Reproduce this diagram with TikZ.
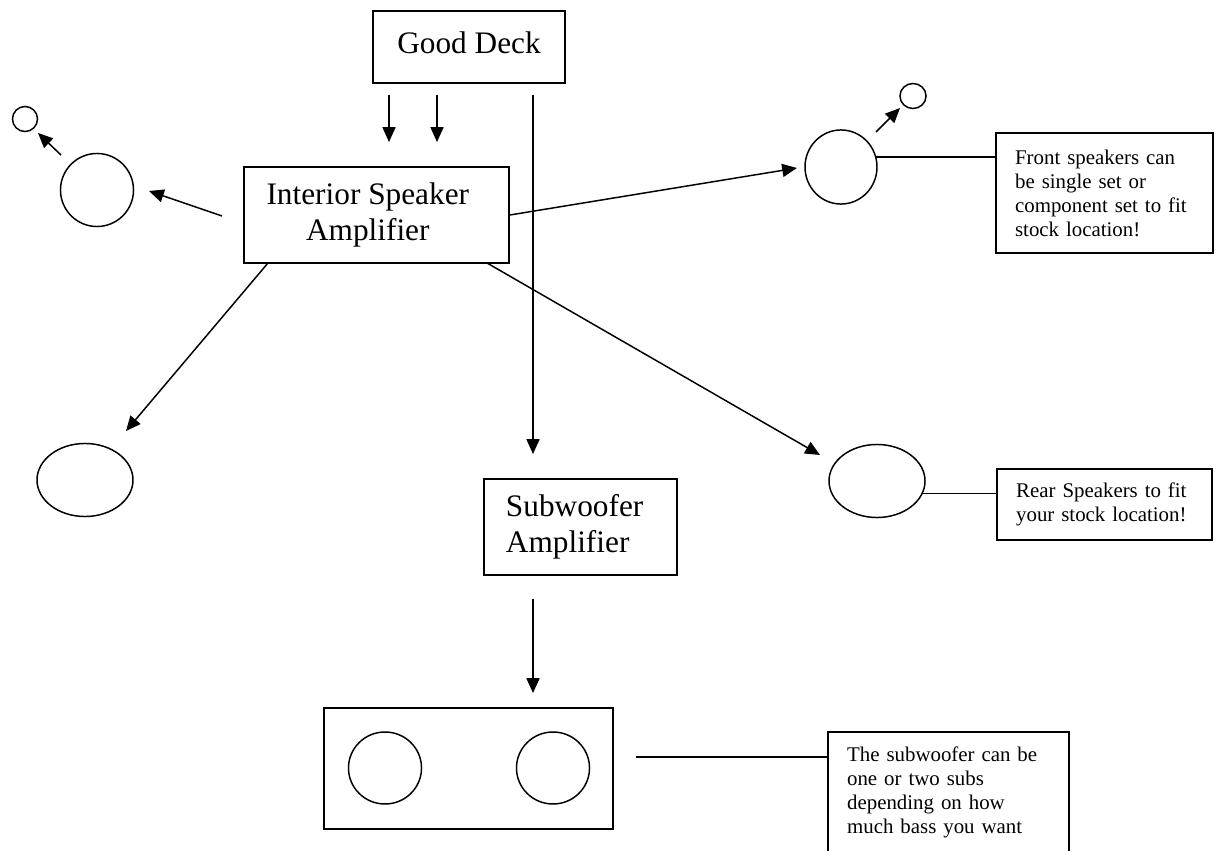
\documentclass[tikz,border=0pt]{standalone}
\usepackage{fontspec}
\setmainfont{Liberation Serif}
\usetikzlibrary{arrows.meta,shapes.geometric}
\begin{document}
\begin{tikzpicture}[x=0.575pt,y=-0.575pt,
  box/.style={draw, line width=1pt, rectangle, inner sep=0pt},
  big/.style={font=\fontsize{18}{21}\selectfont},
  note/.style={draw, line width=1pt, rectangle, font=\fontsize{12}{13.8}\selectfont, align=left, inner xsep=11pt, inner ysep=0pt},
  spk/.style={draw, line width=0.85pt, ellipse, inner sep=0pt},
  arr/.style={line width=0.85pt, -{Triangle[length=8.5pt,width=7.5pt]}},
  ln/.style={line width=0.9pt}]
\clip (0,0) rectangle (1221,851);
\fill[white] (0,0) rectangle (1221,851);

% main boxes
\node[box,big,minimum width=110.4pt,minimum height=41.4pt,text depth=5.5pt] (deck) at (469,47) {Good Deck};
\node[box,big,align=center,minimum width=152.4pt,minimum height=55.2pt] (isa) at (376.5,215) {Interior Speaker\hspace*{10pt}\\Amplifier\hspace*{10pt}};
\node[box,big,align=left,text width=85.7pt,inner xsep=12.65pt,minimum height=55.2pt] (sub) at (580.5,527) {Subwoofer\\Amplifier};

% speakers
\node[spk,minimum width=42pt,minimum height=42pt] (lf) at (97,190) {};
\node[spk,minimum width=14.4pt,minimum height=14.4pt] (lt) at (25,119) {};
\node[spk,minimum width=41.4pt,minimum height=42.6pt] (rf) at (841,167) {};
\node[spk,minimum width=15pt,minimum height=14.4pt] (rt) at (913,96) {};
\node[spk,minimum width=55.2pt,minimum height=42pt] (lr) at (85,480) {};
\node[spk,minimum width=55.2pt,minimum height=42pt] (rr) at (877,481) {};
\node[box,minimum width=166.2pt,minimum height=69.6pt] (sbox) at (468.5,768.5) {};
\node[spk,minimum width=42pt,minimum height=41.4pt] (s1) at (385,768) {};
\node[spk,minimum width=42pt,minimum height=41.4pt] (s2) at (553,768) {};

% notes
\node[note,text width=102.8pt,minimum height=69pt] (fn) at (1104.5,193) {Front speakers can\\be single set or\\component set to fit\\stock location!};
\node[note,text width=101.6pt,minimum height=40.8pt] (rn) at (1104.5,504.5) {Rear Speakers to fit\\your stock location!};
\node[note,text width=116.6pt,minimum height=69pt] (sn) at (948.5,792) {The subwoofer can be\\one or two subs\\depending on how\\much bass you want};

% free ends
\coordinate (d1s) at (389,95);  \coordinate (d1e) at (389,142);
\coordinate (d2s) at (437,95);  \coordinate (d2e) at (437,142);
\coordinate (vs) at (533,95);   \coordinate (ve) at (533,454);
\coordinate (las) at (222,216); \coordinate (lae) at (149,191);
\coordinate (lts) at (61,155);  \coordinate (lte) at (38,133);
\coordinate (fae) at (797,168);
\coordinate (rts) at (876,132); \coordinate (rte) at (900,108);
\coordinate (lds) at (268,263); \coordinate (lde) at (126,431);
\coordinate (rds) at (487,263); \coordinate (rde) at (820,455);
\coordinate (sas) at (533,599); \coordinate (sae) at (533,693);
\coordinate (sls) at (636,757);

% connectors
\draw[arr] (d1s) -- (d1e);
\draw[arr] (d2s) -- (d2e);
\draw[arr] (vs) -- (ve);
\draw[arr] (las) -- (lae);
\draw[arr] (lts) -- (lte);
\draw[arr] (isa.east) -- (fae);
\draw[arr] (rts) -- (rte);
\draw[ln] (rf.16) -- (rf.16 -| fn.west);
\draw[arr] (lds) -- (lde);
\draw[arr] (rds) -- (rde);
\draw[ln] (rr.-15) -- (rr.-15 -| rn.west);
\draw[arr] (sas) -- (sae);
\draw[ln] (sls) -- (sls -| sn.west);
\end{tikzpicture}
\end{document}
